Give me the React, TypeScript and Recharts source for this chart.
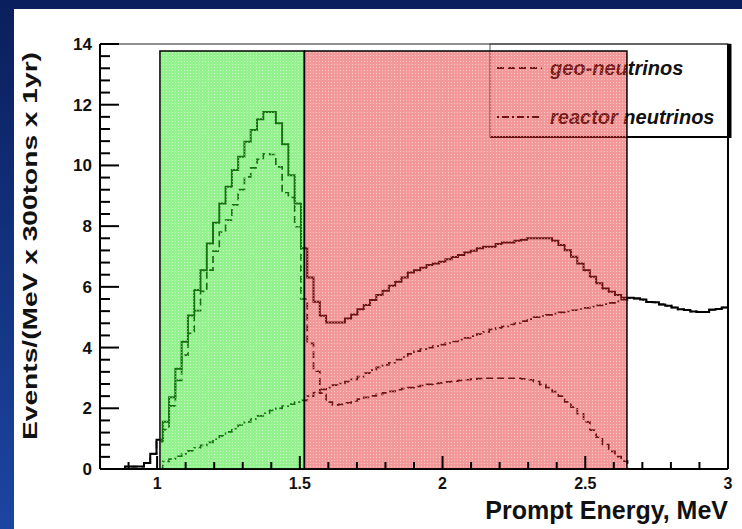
import { ComposedChart, Line, XAxis, YAxis, ReferenceArea, ReferenceLine } from "recharts";

// 100 bins of 0.022 MeV between 0.8 and 3.0 MeV
const X_MIN = 0.8;
const X_MAX = 3.0;
const BIN_WIDTH = 0.022;
const Y_MAX = 14;

const totalEvents = [
  0, 0, 0, 0, 0.08, 0.08, 0.08, 0.2, 0.5, 0.96,
  1.56, 2.36, 3.3, 4.19, 5.06, 5.9, 6.55, 7.43, 8.11, 8.75,
  9.3, 9.85, 10.29, 10.78, 11.17, 11.52, 11.76, 11.76, 11.39, 10.7,
  9.68, 8.75, 7.27, 6.31, 5.51, 5.05, 4.83, 4.83, 4.83, 4.96,
  5.09, 5.26, 5.4, 5.57, 5.73, 5.87, 6.04, 6.17, 6.31, 6.47,
  6.55, 6.63, 6.72, 6.77, 6.83, 6.91, 6.98, 7.05, 7.13, 7.19,
  7.27, 7.32, 7.32, 7.41, 7.46, 7.46, 7.52, 7.55, 7.6, 7.6,
  7.6, 7.6, 7.52, 7.38, 7.21, 6.99, 6.77, 6.55, 6.33, 6.12,
  5.95, 5.84, 5.73, 5.64, 5.64, 5.62, 5.58, 5.5, 5.49, 5.42,
  5.38, 5.32, 5.26, 5.24, 5.19, 5.17, 5.17, 5.25, 5.27, 5.32,
];

const geoEvents = [
  0, 0, 0, 0, 0.08, 0.08, 0.08, 0.2, 0.5, 0.9,
  1.3, 2.08, 2.92, 3.75, 4.47, 5.22, 5.85, 6.55, 7.18, 7.8,
  8.2, 8.7, 9.2, 9.62, 9.92, 10.2, 10.38, 10.36, 9.95, 9.1,
  8.95, 7.98, 5.6, 4.14, 3.22, 2.5, 2.2, 2.11, 2.13, 2.18,
  2.24, 2.3, 2.36, 2.41, 2.46, 2.51, 2.56, 2.61, 2.65, 2.68,
  2.72, 2.75, 2.79, 2.82, 2.84, 2.87, 2.89, 2.92, 2.94, 2.96,
  2.98, 2.99, 2.99, 2.99, 2.99, 2.99, 2.99, 2.97, 2.94, 2.88,
  2.78, 2.68, 2.55, 2.4, 2.21, 2.04, 1.82, 1.55, 1.28, 1.05,
  0.8, 0.58, 0.41, 0.26, 0, 0, 0, 0, 0, 0,
  0, 0, 0, 0, 0, 0, 0, 0, 0, 0,
];

const reactorEvents = [
  0, 0, 0, 0, 0, 0, 0, 0, 0, 0,
  0.25, 0.33, 0.42, 0.5, 0.6, 0.7, 0.78, 0.88, 0.98, 1.09,
  1.22, 1.33, 1.45, 1.55, 1.65, 1.75, 1.84, 1.93, 2.0, 2.07,
  2.14, 2.2, 2.26, 2.4, 2.52, 2.62, 2.68, 2.76, 2.82, 2.88,
  2.95, 3.04, 3.16, 3.26, 3.35, 3.43, 3.5, 3.6, 3.69, 3.79,
  3.88, 3.95, 4.0, 4.05, 4.1, 4.15, 4.2, 4.26, 4.32, 4.38,
  4.44, 4.52, 4.6, 4.65, 4.7, 4.76, 4.81, 4.87, 4.94, 5.0,
  5.04, 5.08, 5.12, 5.16, 5.19, 5.23, 5.27, 5.31, 5.35, 5.39,
  5.43, 5.47, 5.52, 5.58, 5.64, 5.62, 5.58, 5.5, 5.49, 5.42,
  5.38, 5.32, 5.26, 5.24, 5.19, 5.17, 5.17, 5.25, 5.27, 5.32,
];

// shaded energy windows (MeV) and their box height (events)
const lowWindow = [1.01, 1.516];
const highWindow = [1.516, 2.646];
const windowTop = 13.77;

const xMajorTicks = [1, 1.5, 2, 2.5, 3];
const xTicks = Array.from({ length: 23 }, (_, i) => Math.round((X_MIN + i * 0.1) * 10) / 10);
const yMajorTicks = [0, 2, 4, 6, 8, 10, 12, 14];
const yTicks = Array.from({ length: 36 }, (_, i) => Math.round(i * 0.4 * 10) / 10);

const legendItems = [
  { name: "geo-neutrinos", dash: "7 4" },
  { name: "reactor neutrinos", dash: "2 3 7 3" },
];

const FONT = "'Liberation Sans', Arial, Helvetica, sans-serif";

// chart box and frame geometry in pixels
const WIDTH = 742;
const HEIGHT = 529;
const MARGIN = { top: 44, right: 14, bottom: 0, left: 0 };
const X_AXIS_H = 60;
const Y_AXIS_W = 100;
const PLOT_W = WIDTH - MARGIN.right - Y_AXIS_W;
const PLOT_H = HEIGHT - MARGIN.top - X_AXIS_H;
const PLOT_BOTTOM = MARGIN.top + PLOT_H;
const toPxX = (v: number) => Y_AXIS_W + ((v - X_MIN) / (X_MAX - X_MIN)) * PLOT_W;
const toPxY = (v: number) => PLOT_BOTTOM - (v / Y_MAX) * PLOT_H;

// one point per bin edge, the last edge repeats the last bin so the step closes at 3 MeV
const rows = totalEvents.map((t, i) => ({
  x: X_MIN + i * BIN_WIDTH,
  total: t,
  geo: geoEvents[i],
  reactor: reactorEvents[i],
}));
rows.push({
  x: X_MAX,
  total: totalEvents[totalEvents.length - 1],
  geo: geoEvents[geoEvents.length - 1],
  reactor: reactorEvents[reactorEvents.length - 1],
});

const near = (a: number, b: number) => Math.abs(a - b) < 1e-6;
const isMajor = (v: number, majors: number[]) => majors.some((m) => near(m, v));

const xTickLabel = (props: any) => {
  const { x, y, payload } = props;
  if (!isMajor(payload.value, xMajorTicks)) return <g />;
  return (
    <text x={x} y={y + 20} textAnchor="middle" fontSize={16} fontWeight="bold" fontFamily={FONT} fill="#111">
      {String(payload.value)}
    </text>
  );
};

const yTickLabel = (props: any) => {
  const { x, y, payload } = props;
  if (!isMajor(payload.value, yMajorTicks)) return <g />;
  return (
    <text x={x - 8} y={y + 6} textAnchor="end" fontSize={17} fontWeight="bold" fontFamily={FONT} fill="#111">
      {payload.value}
    </text>
  );
};

function LegendBox() {
  return (
    <g fontFamily={FONT} fontWeight="bold" fontStyle="italic" fontSize={20} fill="#111">
      <rect x={490} y={44} width={240} height={93} fill="#fff" stroke="#555" strokeWidth={1} />
      <line x1={730} y1={44} x2={730} y2={138} stroke="#000" strokeWidth={3} />
      <line x1={490} y1={137} x2={731} y2={137} stroke="#000" strokeWidth={2} />
      {legendItems.map((item, i) => (
        <g key={item.name}>
          <line x1={497} x2={542} y1={68 + i * 49} y2={68 + i * 49} stroke="#000" strokeWidth={1.8} strokeDasharray={item.dash} />
          <text x={550} y={75 + i * 49}>{item.name}</text>
        </g>
      ))}
    </g>
  );
}

export default function App() {
  return (
    <div
      style={{
        position: "absolute",
        left: 0,
        top: 0,
        width: WIDTH,
        height: HEIGHT,
        overflow: "hidden",
        background: "linear-gradient(to bottom, #0a1f5c, #1c45a2)",
      }}
    >
      <div style={{ position: "absolute", left: 14, top: 9, right: 0, bottom: 0, background: "#fff" }} />
      <div style={{ position: "absolute", left: 0, top: 0 }}>
        <ComposedChart width={WIDTH} height={HEIGHT} data={rows} margin={MARGIN}>
          <defs>
            <pattern id="hatchGreen" width="3" height="3" patternUnits="userSpaceOnUse">
              <rect width="3" height="3" fill="rgb(40,230,30)" fillOpacity={0.5} />
              <rect x="1" y="1" width="1" height="1" fill="#fff" fillOpacity={0.5} />
            </pattern>
            <pattern id="hatchRed" width="3" height="3" patternUnits="userSpaceOnUse">
              <rect width="3" height="3" fill="rgb(230,40,40)" fillOpacity={0.48} />
              <rect x="1" y="1" width="1" height="1" fill="#fff" fillOpacity={0.5} />
            </pattern>
          </defs>
          <XAxis
            type="number"
            dataKey="x"
            domain={[X_MIN, X_MAX]}
            ticks={xTicks}
            interval={0}
            height={X_AXIS_H}
            tickSize={0}
            tickMargin={0}
            tickLine={false}
            tick={xTickLabel}
            axisLine={{ stroke: "#000", strokeWidth: 2 }}
            allowDataOverflow
          />
          <YAxis
            type="number"
            domain={[0, Y_MAX]}
            ticks={yTicks}
            interval={0}
            width={Y_AXIS_W}
            tickSize={0}
            tickMargin={0}
            tickLine={false}
            tick={yTickLabel}
            axisLine={{ stroke: "#000", strokeWidth: 2 }}
            allowDataOverflow
          />
          <ReferenceLine y={Y_MAX} stroke="#222" strokeWidth={1} />
          <ReferenceLine x={X_MAX} stroke="#000" strokeWidth={2} />
          <LegendBox />
          <Line dataKey="total" type="stepAfter" stroke="#000" strokeWidth={2} dot={false} isAnimationActive={false} />
          <Line dataKey="geo" type="stepAfter" stroke="#000" strokeWidth={1.7} strokeDasharray="7 4" dot={false} isAnimationActive={false} />
          <Line dataKey="reactor" type="stepAfter" stroke="#000" strokeWidth={1.7} strokeDasharray="7 3 2 3" dot={false} isAnimationActive={false} />
          <ReferenceArea
            x1={lowWindow[0]}
            x2={lowWindow[1]}
            y1={0}
            y2={windowTop}
            fill="url(#hatchGreen)"
            fillOpacity={1}
            stroke="#000"
            strokeWidth={1.5}
            zIndex={650}
          />
          <ReferenceArea
            x1={highWindow[0]}
            x2={highWindow[1]}
            y1={0}
            y2={windowTop}
            fill="url(#hatchRed)"
            fillOpacity={1}
            stroke="#000"
            strokeWidth={1.5}
            zIndex={650}
          />
        </ComposedChart>
      </div>
      <svg width={WIDTH} height={HEIGHT} style={{ position: "absolute", left: 0, top: 0, pointerEvents: "none" }}>
        {/* inward tick marks on the bottom and left edges of the frame */}
        <g stroke="#000" strokeWidth={2}>
          {xTicks.map((v) => (
            <line
              key={`xt${v}`}
              x1={toPxX(v)}
              x2={toPxX(v)}
              y1={PLOT_BOTTOM}
              y2={PLOT_BOTTOM - (isMajor(v, xMajorTicks) ? 13 : 7)}
            />
          ))}
          {yTicks.map((v) => (
            <line
              key={`yt${v}`}
              x1={Y_AXIS_W}
              x2={Y_AXIS_W + (isMajor(v, yMajorTicks) ? 19 : 10)}
              y1={toPxY(v)}
              y2={toPxY(v)}
            />
          ))}
        </g>
        <text
          transform="translate(37 246) rotate(-90)"
          textAnchor="middle"
          fontFamily={FONT}
          fontWeight="bold"
          fontSize={21}
          textLength={388}
          lengthAdjust="spacingAndGlyphs"
          fill="#111"
        >
          Events/(MeV x 300tons x 1yr)
        </text>
        <text x={728} y={519} textAnchor="end" fontFamily={FONT} fontWeight="bold" fontSize={25} fill="#111">
          Prompt Energy, MeV
        </text>
      </svg>
    </div>
  );
}
